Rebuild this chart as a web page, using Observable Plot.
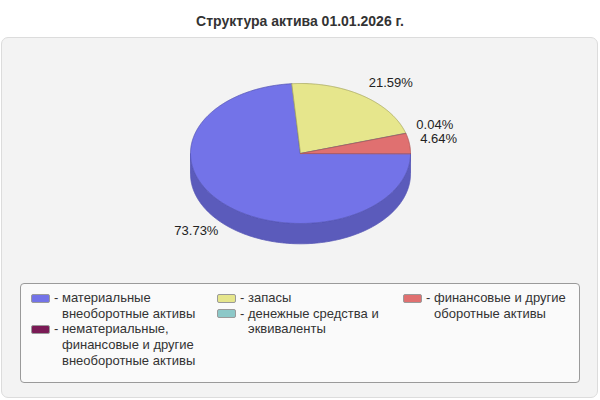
<!DOCTYPE html>
<html>
<head>
<meta charset="utf-8">
<script src="https://cdn.jsdelivr.net/npm/d3@7"></script>
<script src="https://cdn.jsdelivr.net/npm/@observablehq/plot@0.6"></script>
<style>
  html, body { margin: 0; padding: 0; background: #ffffff; }
  body { width: 600px; height: 400px; position: relative; overflow: hidden; font-family: "Liberation Sans", Arial, sans-serif; }
  #title { position: absolute; left: 0; top: 13px; width: 600px; text-align: center; font-weight: bold; font-size: 14px; line-height: 16px; color: #333; }
  #panel { position: absolute; left: 1px; top: 37px; width: 597px; height: 361px; box-sizing: border-box; border: 1px solid #dcdcdc; border-radius: 7px; background: #f3f3f3; }
  #chart { position: absolute; left: 0; top: 0; }
  #legend { position: absolute; left: 20px; top: 283px; width: 560px; height: 100px; box-sizing: border-box; border: 1px solid #9a9a9a; border-radius: 4px; background: #fafafa; }
  .col { position: absolute; top: 6px; width: 180px; }
  .item { display: flex; align-items: flex-start; font-size: 13px; line-height: 15.7px; color: #333; }
  .sw { flex: none; width: 17px; height: 7px; border: 1px solid #9a9a9a; border-radius: 2px; margin-top: 3.5px; margin-right: 4px; }
  .txt { padding-left: 8px; text-indent: -8px; width: 150px; }
</style>
</head>
<body>
<div id="title"></div>
<div id="panel"></div>
<div id="chart"></div>
<div id="legend"></div>
<script>
const title = "Структура актива 01.01.2026 г.";
const categories = [
  "материальные внеоборотные активы",
  "нематериальные, финансовые и другие внеоборотные активы",
  "запасы",
  "денежные средства и эквиваленты",
  "финансовые и другие оборотные активы"
];
const values = [73.73, 0, 21.59, 0.04, 4.64];
const colors = ["#7373e8", "#7a1a55", "#e6e68c", "#8cc8c8", "#e07070"];
const sideColors = ["#5b5bbb", "#5e1442", "#b8b870", "#70a0a0", "#b35a5a"];
const strokeColors = ["#5555b5", "#5e1442", "#a8a860", "#6a9a9a", "#b05555"];
const legendColumns = [[0, 1], [2, 3], [4]];

document.getElementById("title").textContent = title;

// geometry in unit ellipse coordinates (y up)
const depth = 0.29;
const ry = 70; // pixels per y unit
const total = d3.sum(values);
let cum = 0;
const slices = values.map((v, i) => {
  const a0 = -2 * Math.PI * cum / total;
  cum += v;
  const a1 = -2 * Math.PI * cum / total;
  return {i, v, a0, a1};
});

const tops = [];
const sides = [];
const labels = [];
for (const s of slices) {
  if (s.v <= 0) continue;
  const n = Math.max(2, Math.ceil(Math.abs(s.a1 - s.a0) / (Math.PI / 360)));
  const arc = d3.range(n + 1).map(k => s.a0 + (s.a1 - s.a0) * k / n);
  tops.push({key: "t" + s.i, x: 0, y: 0, fill: colors[s.i], stroke: strokeColors[s.i]});
  for (const a of arc) tops.push({key: "t" + s.i, x: Math.cos(a), y: Math.sin(a), fill: colors[s.i], stroke: strokeColors[s.i]});
  const front = arc.filter(a => Math.sin(a) <= 1e-9);
  if (front.length > 1) {
    for (const a of front) sides.push({key: "s" + s.i, x: Math.cos(a), y: Math.sin(a), fill: sideColors[s.i], stroke: strokeColors[s.i]});
    for (const a of front.slice().reverse()) sides.push({key: "s" + s.i, x: Math.cos(a), y: Math.sin(a) - depth, fill: sideColors[s.i], stroke: strokeColors[s.i]});
  }
  const m = (s.a0 + s.a1) / 2;
  const cx = Math.cos(m), sy = Math.sin(m);
  labels.push({
    x: cx * 1.1,
    y: sy * 1.17 + (sy < 0 ? -depth : 0) + 0.04,
    text: s.v.toFixed(2) + "%",
    anchor: cx >= 0 ? "start" : "end"
  });
}
// simple collision avoidance: keep labels on each side at least 13px apart (push upward)
const minGap = 13.5 / ry;
for (const side of ["start", "end"]) {
  const group = labels.filter(d => d.anchor === side).sort((a, b) => a.y - b.y);
  for (let k = 1; k < group.length; k++) {
    if (group[k].y - group[k - 1].y < minGap) group[k].y = group[k - 1].y + minGap;
  }
}

const plot = Plot.plot({
  width: 600,
  height: 280,
  marginTop: 0, marginRight: 0, marginBottom: 0, marginLeft: 0,
  x: {domain: [-1, 1], range: [190, 410], axis: null},
  y: {domain: [-1, 1], range: [223, 83], axis: null},
  color: {type: "identity"},
  style: {background: "transparent", fontFamily: "'Liberation Sans', Arial, sans-serif", overflow: "visible"},
  marks: [
    Plot.line(sides, {x: "x", y: "y", z: "key", fill: "fill", stroke: "stroke", strokeWidth: 0.8, curve: "linear-closed"}),
    Plot.line(tops, {x: "x", y: "y", z: "key", fill: "fill", stroke: "stroke", strokeWidth: 0.8, curve: "linear-closed"}),
    Plot.text(labels.filter(d => d.anchor === "start"), {x: "x", y: "y", text: "text", textAnchor: "start", fontSize: 13, fill: "#222"}),
    Plot.text(labels.filter(d => d.anchor === "end"), {x: "x", y: "y", text: "text", textAnchor: "end", fontSize: 13, fill: "#222"})
  ]
});
document.getElementById("chart").appendChild(plot);

const legend = document.getElementById("legend");
const colLeft = [10, 196, 382];
legendColumns.forEach((idxs, c) => {
  const col = document.createElement("div");
  col.className = "col";
  col.style.left = colLeft[c] + "px";
  for (const i of idxs) {
    const item = document.createElement("div");
    item.className = "item";
    const sw = document.createElement("div");
    sw.className = "sw";
    sw.style.background = colors[i];
    const t = document.createElement("div");
    t.className = "txt";
    t.textContent = "- " + categories[i];
    item.appendChild(sw);
    item.appendChild(t);
    col.appendChild(item);
  }
  legend.appendChild(col);
});
</script>
</body>
</html>
